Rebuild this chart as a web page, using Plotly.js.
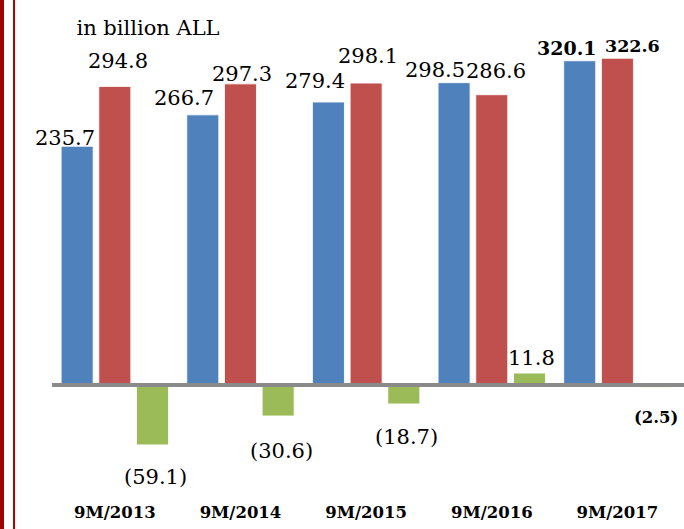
<!DOCTYPE html>
<html>
<head>
<meta charset="utf-8">
<script src="https://cdn.plot.ly/plotly-3.0.1.min.js"></script>
<style>
  html, body { margin: 0; padding: 0; background: #ffffff; }
  #wrap { position: relative; width: 684px; height: 529px; overflow: hidden; }
  #chart { position: absolute; left: 0; top: 0; width: 684px; height: 529px; }
  #band { position: absolute; left: 0; top: 0; width: 4px; height: 529px; background: #9c0000; }
  #rule { position: absolute; left: 13px; top: 0; width: 2px; height: 529px; background: #c00000; }
</style>
</head>
<body>
<div id="wrap">
  <div id="chart"></div>
  <div id="band"></div>
  <div id="rule"></div>
</div>
<script>
// ---- data ----
const categories = ["9M/2013", "9M/2014", "9M/2015", "9M/2016", "9M/2017"];
const seriesA = [235.7, 266.7, 279.4, 298.5, 320.1];   // blue
const seriesB = [294.8, 297.3, 298.1, 286.6, 322.6];   // red
const seriesC = [-59.1, -30.6, -18.7, 11.8, -2.5];     // green
const unitLabel = "in billion ALL";

// ---- styling / label placement (pixel offsets of label centre from bar end) ----
const colors = ["#4f81bd", "#c0504d", "#9bbb59"];
const labelDx = [
  [-12, -19, -13, -19, -13],
  [3, 2, 1.5, 4, 15],
  [3, 3, 2.5, 2, 1]
];
const labelDy = [
  [-8, -17, -21, -13, -13],
  [-25, -10, -27, -24, -12],
  [32, 35, 33.5, -15, 30]
];
const boldLast = [true, true, true];
const slot = 0.3; // (1 - bargap) / 3

function fmt(v) {
  const s = Math.abs(v).toFixed(1);
  return v < 0 ? "(" + s + ")" : s;
}

const allSeries = [seriesA, seriesB, seriesC];
const traces = allSeries.map((vals, k) => ({
  type: "bar",
  x: categories,
  y: vals,
  marker: { color: colors[k], line: { color: "rgba(255,255,255,0.85)", width: 1 } },
  hoverinfo: "skip",
  showlegend: false
}));

const annotations = [];
allSeries.forEach((vals, k) => {
  vals.forEach((v, i) => {
    const bold = boldLast[k] && i === categories.length - 1;
    let size = 21;
    if (bold) size = (k === 0 ? 19 : (k === 1 ? 17.5 : 16.5));
    annotations.push({
      x: i + (k - 1) * slot,
      y: v,
      xref: "x", yref: "y",
      text: bold ? "<b>" + fmt(v) + "</b>" : fmt(v),
      showarrow: false,
      xanchor: "center", yanchor: "middle",
      xshift: labelDx[k][i],
      yshift: -labelDy[k][i],
      font: { family: "DejaVu Serif, serif", size: size, color: "#000000" }
    });
  });
});

const layout = {
  width: 684, height: 529,
  margin: { l: 52, r: 0, t: 40, b: 29, pad: 0 },
  paper_bgcolor: "#ffffff",
  plot_bgcolor: "#ffffff",
  barmode: "group",
  bargap: 0.1,
  bargroupgap: 0.15,
  showlegend: false,
  title: {
    text: unitLabel,
    x: 148 / 684, xanchor: "center", xref: "container",
    y: 1 - 28 / 529, yanchor: "middle", yref: "container",
    font: { family: "DejaVu Serif, serif", size: 21, color: "#000000" }
  },
  xaxis: {
    type: "category",
    range: [-0.5, 4.53],
    showgrid: false, zeroline: false, showline: false,
    ticks: "",
    tickfont: { family: "DejaVu Serif, serif", size: 16.5, color: "#000000", weight: "bold" },
    fixedrange: true
  },
  yaxis: {
    range: [-113.5, 340.6],
    showgrid: false, zeroline: false, showline: false,
    showticklabels: false, ticks: "",
    fixedrange: true
  },
  shapes: [{
    type: "line", xref: "paper", yref: "y",
    x0: 0, x1: 1, y0: 0, y1: 0,
    line: { color: "#8a8a8a", width: 4 },
    layer: "above"
  }],
  annotations: annotations
};

Plotly.newPlot("chart", traces, layout, { staticPlot: true, displayModeBar: false });
</script>
</body>
</html>
